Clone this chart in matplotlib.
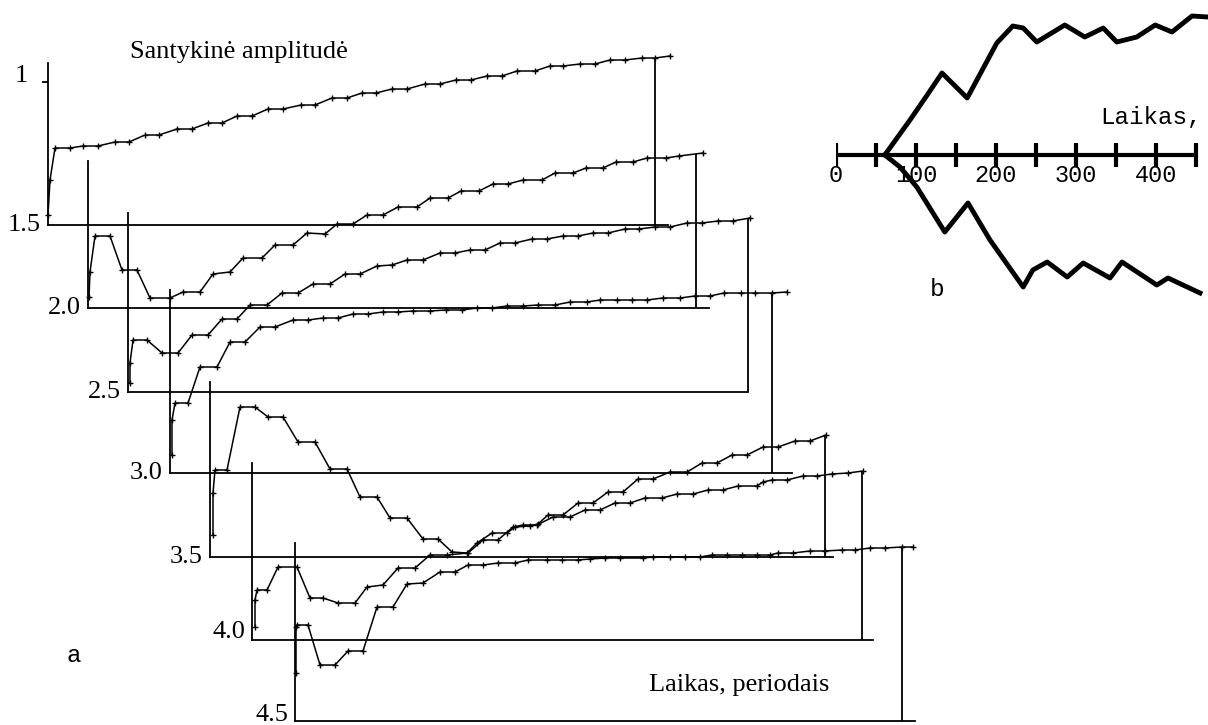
import numpy as np
import matplotlib
matplotlib.use("Agg")
import matplotlib.pyplot as plt

# Laikas periodais (t) ir santykinė amplitudė (a) kiekvienai kreivei, a = 0 ties apatine linija
t1 = [0, 0.4, 1.4, 4.4, 7, 10, 13.4, 16.2, 19.4, 22.2, 25.8, 28.8, 32, 34.8, 37.8, 40.8, 44, 47,
      50.6, 53.4, 56.8, 59.8, 62.8, 65.6, 68.8, 71.8, 75.4, 78.4, 81.6, 84.6, 87.8, 90.8, 93.8,
      97.4, 100.4, 103, 106.4, 109.4, 112.4, 115.4, 118.8, 121.4, 124.4]
a1 = [0.10, 0.45, 0.77, 0.77, 0.79, 0.79, 0.83, 0.83, 0.90, 0.90, 0.96, 0.96, 1.02, 1.02, 1.09,
      1.09, 1.16, 1.16, 1.20, 1.20, 1.27, 1.27, 1.32, 1.32, 1.36, 1.36, 1.41, 1.41, 1.45, 1.45,
      1.49, 1.49, 1.54, 1.54, 1.59, 1.59, 1.61, 1.61, 1.65, 1.65, 1.67, 1.67, 1.69]

t2 = [0.2, 0.4, 1.4, 4.4, 6.8, 9.8, 12.4, 16.4, 19, 22.4, 25, 28.4, 31, 34.8, 37.4, 41, 43.8,
      47.4, 49.8, 53, 55.8, 59, 62, 65.8, 68.4, 72, 74.6, 78.2, 81, 84, 87, 90.8, 93.4, 97, 99.6,
      103, 105.6, 109, 111.8, 115.6, 118.2, 123]
a2 = [0.11, 0.36, 0.72, 0.72, 0.38, 0.38, 0.10, 0.10, 0.16, 0.16, 0.34, 0.36, 0.50, 0.50, 0.63,
      0.63, 0.75, 0.74, 0.84, 0.84, 0.93, 0.93, 1.01, 1.01, 1.10, 1.10, 1.17, 1.17, 1.24, 1.24,
      1.28, 1.28, 1.35, 1.35, 1.40, 1.40, 1.46, 1.46, 1.50, 1.50, 1.52, 1.55]

t3 = [0.4, 0.4, 1, 3.8, 6.8, 10, 12.8, 16, 18.8, 21.8, 24.4, 27.8, 30.8, 34, 37, 40.4, 43.4,
      46.4, 49.8, 52.8, 55.8, 59, 62.4, 65.4, 68.4, 71.4, 74.4, 77.4, 80.8, 83.8, 87, 90, 93, 96,
      99.4, 102.2, 105.4, 108.4, 111.8, 114.8, 118, 121, 124.4]
a3 = [0.09, 0.29, 0.52, 0.52, 0.39, 0.39, 0.57, 0.57, 0.73, 0.73, 0.87, 0.87, 0.99, 0.99, 1.08,
      1.08, 1.18, 1.18, 1.26, 1.27, 1.32, 1.32, 1.39, 1.39, 1.42, 1.42, 1.49, 1.49, 1.53, 1.53,
      1.56, 1.56, 1.59, 1.59, 1.63, 1.63, 1.65, 1.65, 1.69, 1.69, 1.71, 1.71, 1.74]

t4 = [0.4, 0.4, 1, 3.6, 6, 9.4, 12, 15, 18, 21, 24.6, 27.6, 30.6, 33.6, 36.6, 39.6, 42.6, 45.6,
      48.6, 52, 55.2, 58.4, 61.4, 64.4, 67.4, 70.6, 73.6, 77, 80, 83.4, 86, 89.4, 92.4, 95.4,
      98.6, 102, 105, 108, 110.8, 114.2, 117, 120.4, 123.4]
a4 = [0.18, 0.53, 0.70, 0.70, 1.06, 1.06, 1.31, 1.31, 1.46, 1.46, 1.53, 1.53, 1.55, 1.55, 1.59,
      1.59, 1.61, 1.61, 1.62, 1.62, 1.63, 1.63, 1.65, 1.65, 1.67, 1.67, 1.68, 1.68, 1.71, 1.71,
      1.73, 1.73, 1.73, 1.73, 1.75, 1.75, 1.77, 1.77, 1.80, 1.80, 1.80, 1.80, 1.81]

t5 = [0.6, 0.6, 1, 3.4, 6, 9, 11.6, 14.6, 17.6, 21, 24, 27.4, 30, 33.4, 36, 39.4, 42.6, 45.6,
      48.4, 51.4, 53.4, 56.4, 59.4, 61, 64, 65.6, 67.6, 70.6, 73.6, 76.6, 79.6, 82.6, 85.6, 88.6,
      92, 95.4, 98.4, 101.4, 104.4, 107.4, 110.6, 113.6, 117, 120, 123.2]
a5 = [0.22, 0.64, 0.87, 0.87, 1.50, 1.50, 1.40, 1.40, 1.15, 1.15, 0.88, 0.88, 0.60, 0.60, 0.39,
      0.39, 0.18, 0.18, 0.05, 0.04, 0.14, 0.24, 0.24, 0.30, 0.31, 0.33, 0.42, 0.42, 0.54, 0.54,
      0.65, 0.65, 0.78, 0.78, 0.85, 0.85, 0.94, 0.94, 1.02, 1.02, 1.10, 1.10, 1.16, 1.16, 1.22]

t6 = [0.6, 0.6, 1, 3, 5.2, 9, 11.6, 14.2, 17.2, 20.6, 23, 26.2, 29.2, 32.6, 35.6, 39, 43.2, 46.2,
      49.2, 52.2, 54.2, 57, 60.2, 63.6, 66.6, 69.6, 72.6, 75.6, 78.6, 82, 85, 88.2, 91.2, 94.2,
      97.2, 101, 102.2, 104, 107, 110.2, 113, 116, 119.2, 122.2]
a6 = [0.13, 0.40, 0.50, 0.50, 0.73, 0.73, 0.42, 0.42, 0.37, 0.37, 0.53, 0.55, 0.72, 0.72, 0.85,
      0.85, 0.87, 1.00, 1.00, 1.13, 1.15, 1.15, 1.23, 1.23, 1.30, 1.30, 1.37, 1.37, 1.42, 1.42,
      1.46, 1.46, 1.50, 1.50, 1.54, 1.54, 1.58, 1.60, 1.60, 1.64, 1.64, 1.66, 1.67, 1.69]

t7 = [0.2, 0.2, 0.4, 2.6, 5, 8, 10.6, 13.6, 16.4, 19.6, 22.4, 25.6, 29, 32, 34.6, 37.6, 40.6, 44,
      46.6, 50.4, 53.4, 56.6, 59, 62, 65, 69.6, 71.6, 75, 78, 81, 83.4, 86.4, 89.4, 92.4, 95, 96.6,
      99.6, 103, 106, 109.4, 112, 115, 118, 121.4, 123.6]
a7 = [0.48, 0.94, 0.96, 0.96, 0.56, 0.56, 0.70, 0.70, 1.14, 1.14, 1.37, 1.38, 1.49, 1.49, 1.56,
      1.56, 1.58, 1.58, 1.61, 1.61, 1.61, 1.61, 1.62, 1.63, 1.63, 1.63, 1.64, 1.64, 1.64, 1.64,
      1.66, 1.66, 1.66, 1.66, 1.66, 1.68, 1.68, 1.70, 1.70, 1.71, 1.71, 1.73, 1.73, 1.74, 1.74]

curves_t = [t1, t2, t3, t4, t5, t6, t7]
curves_a = [a1, a2, a3, a4, a5, a6, a7]
panel_labels = ["1.5", "2.0", "2.5", "3.0", "3.5", "4.0", "4.5"]
axis_top = [1.62, 1.47, 1.79, 1.83, 1.75, 1.77, 1.78]      # kairės ašies aukštis
right_t = [121.4, 121.6, 124, 120.4, 123, 122, 121.4]       # dešiniosios vertikalės vieta
base_end = [124, 124.2, 124, 124.4, 124.6, 124.2, 124]      # apatinės linijos ilgis

# b dalis: amplitudės gaubtinės
b_up_t = [61, 92.5, 114, 132.5, 164, 201, 221, 234, 251, 286, 311, 334, 351, 376, 399, 420, 445, 465]
b_up_a = [0, 0.35, 0.60, 0.82, 0.57, 1.12, 1.29, 1.27, 1.13, 1.30, 1.18, 1.27, 1.13, 1.18, 1.30,
          1.23, 1.39, 1.38]
b_lo_t = [61, 80, 101, 136, 165, 192.5, 234, 246, 264, 289, 309, 342.5, 357.5, 401, 415, 455]
b_lo_a = [0, -0.12, -0.32, -0.77, -0.48, -0.85, -1.32, -1.15, -1.07, -1.22, -1.08, -1.23, -1.07,
          -1.30, -1.23, -1.38]
b_ticks = np.arange(0, 451, 50)
b_tick_labels = [0, 100, 200, 300, 400]

# išdėstymas pikseliais
W, H = 1208, 725
panel_left = [48, 88, 128, 170, 210, 252, 295]
panel_base = [225, 308, 392, 473, 557, 640, 721]
label_dy = [0, 0, 0, 0, 0, 0.08, 0.06]
PX_T, PX_A = 5, 100
T_SPAN = 124

serif = "Liberation Serif"
mono = "Liberation Mono"

fig = plt.figure(figsize=(W / 100, H / 100), dpi=100)

for i in range(7):
    rect = [panel_left[i] / W, (H - panel_base[i]) / H, T_SPAN * PX_T / W, axis_top[i] * PX_A / H]
    ax = fig.add_axes(rect)
    ax.patch.set_visible(False)
    ax.set_xlim(0, T_SPAN)
    ax.set_ylim(0, axis_top[i])
    for s in ["top", "right"]:
        ax.spines[s].set_visible(False)
    ax.spines["left"].set_linewidth(1.3)
    ax.spines["bottom"].set_linewidth(1.3)
    ax.spines["left"].set_bounds(0, axis_top[i])
    ax.spines["bottom"].set_bounds(0, base_end[i])
    ax.set_xticks([])
    if i == 0:
        ax.set_yticks([1.43])
        ax.tick_params(axis="y", length=4.5, width=1.3, labelleft=False)
    else:
        ax.set_yticks([])

    t = np.array(curves_t[i])
    a = np.array(curves_a[i])
    ax.plot(t, a, color="black", lw=1.1, marker="+", ms=5, mew=1.0, clip_on=False)
    ax.vlines(right_t[i], 0, np.interp(right_t[i], t, a), color="black", lw=1.3, clip_on=False)
    ax.text(-1.4, label_dy[i], panel_labels[i], ha="right", va="center",
            family=serif, fontsize=19, clip_on=False)

fig.text(239 / W, 1 - 52 / H, "Santykinė amplitudė", ha="center", va="center",
         family=serif, fontsize=19)
fig.text(21 / W, 1 - 76 / H, "1", ha="center", va="center", family=serif, fontsize=19)
fig.text(739 / W, 1 - 685 / H, "Laikas, periodais", ha="center", va="center",
         family=serif, fontsize=19)
fig.text(74 / W, 1 - 656 / H, "a", ha="center", va="center", family=mono, fontsize=17.5)
fig.text(937 / W, 1 - 290 / H, "b", ha="center", va="center", family=mono, fontsize=17.5)

# b dalis
bx = fig.add_axes([836 / W, (H - 310) / H, (W - 836) / W, 310 / H])
bx.set_axis_off()
bx.set_xlim(0, (W - 836) / 0.8)
bx.set_ylim(-1.55, 1.55)
bx.hlines(0, b_ticks[0], b_ticks[-1], color="black", lw=3)
bx.vlines(b_ticks, -0.12, 0.12, color="black", lw=3)
for v in b_tick_labels:
    bx.text(v, -0.2, str(v), ha="center", va="center", family=mono, fontsize=17)
bx.text(330, 0.37, "Laikas,", ha="left", va="center", family=mono, fontsize=17.5)
bx.plot(b_up_t, b_up_a, color="black", lw=3.5, solid_joinstyle="round", zorder=5, clip_on=False)
bx.plot(b_lo_t, b_lo_a, color="black", lw=3.5, solid_joinstyle="round", zorder=5, clip_on=False)

fig.savefig("out.png", dpi=100)
